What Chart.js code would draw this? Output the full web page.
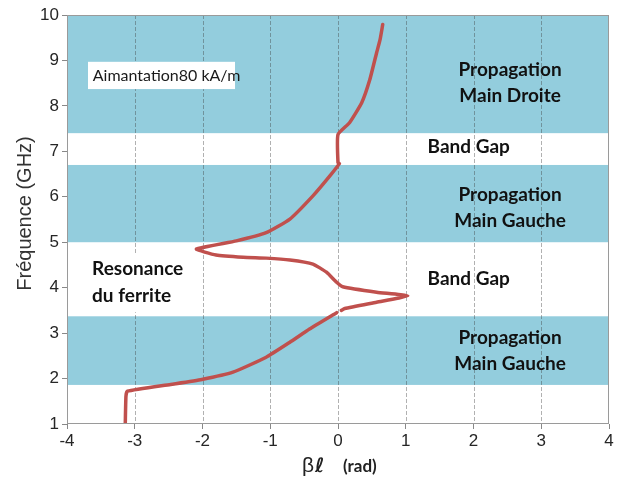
<!DOCTYPE html>
<html>
<head>
<meta charset="utf-8">
<script src="https://cdn.jsdelivr.net/npm/chart.js@4"></script>
<style>
  body { margin: 0; background: #fff; }
  #graf { display: block; }
</style>
</head>
<body>
<canvas id="graf" width="623" height="479"></canvas>
<script>
// Dispersion curve: beta*l (rad) vs frequency (GHz), null = small break
const betaL = [0.66, 0.62, 0.57, 0.47, 0.35, 0.17, 0.0, 0.0, 0.02, -0.12, -0.37, -0.71, -1.06, -1.50, -2.09,
  -1.80, -1.40, -1.06, -0.71, -0.37, -0.17, -0.02, 0.07, 0.57, 1.03, 0.57, 0.10, 0.05, null,
  -0.02, -0.42, -0.71, -1.06, -1.55, -2.01, -2.47, -3.11, -3.13, -3.14];
const freqGHz = [9.79, 9.45, 9.17, 8.58, 8.07, 7.63, 7.37, 6.75, 6.73, 6.46, 6.02, 5.51, 5.21, 5.03, 4.85,
  4.72, 4.67, 4.65, 4.61, 4.52, 4.34, 4.12, 4.02, 3.90, 3.82, 3.68, 3.54, 3.50, null,
  3.45, 3.09, 2.80, 2.47, 2.14, 1.98, 1.87, 1.72, 1.61, 1.00];

// bandes de propagation (bleu)
const bandLow = [1.86, 5.0, 7.40];
const bandHigh = [3.37, 6.70, 10];

const xTicks = [-4, -3, -2, -1, 0, 1, 2, 3, 4];
const yTicks = [1, 2, 3, 4, 5, 6, 7, 8, 9, 10];

// textes sur le graphe: [texte, beta, freq, align]
const notes = [
  ['Propagation', 2.54, 8.79, 'center'],
  ['Main Droite', 2.54, 8.22, 'center'],
  ['Band Gap', 1.93, 7.10, 'center'],
  ['Propagation', 2.54, 6.04, 'center'],
  ['Main Gauche', 2.54, 5.47, 'center'],
  ['Resonance', -3.63, 4.41, 'left'],
  ['du ferrite', -3.63, 3.82, 'left'],
  ['Band Gap', 1.93, 4.19, 'center'],
  ['Propagation', 2.54, 2.89, 'center'],
  ['Main Gauche', 2.54, 2.32, 'center']
];

let points = betaL.map((b, k) => (b === null ? { x: null, y: null } : { x: b, y: freqGHz[k] }));

// Fonds, cadres et titres
const decorPlugin = {
  id: 'decor',
  beforeDatasetsDraw(chart) {
    const { ctx, chartArea, scales } = chart;
    let x = scales.x, y = scales.y;
    ctx.save();
    // bandes bleues
    ctx.fillStyle = '#93CDDD';
    for (let i = 0; i < bandLow.length; i++) {
      let top = y.getPixelForValue(bandHigh[i]);
      let bot = y.getPixelForValue(bandLow[i]);
      ctx.fillRect(chartArea.left, top, chartArea.right - chartArea.left, bot - top);
    }
    // grille verticale en pointilles
    ctx.strokeStyle = 'rgba(60,60,60,0.4)';
    ctx.lineWidth = 1;
    ctx.setLineDash([4, 2]);
    xTicks.forEach(t => {
      if (t === -4 || t === 4) return;
      let px = Math.round(x.getPixelForValue(t)) + 0.5;
      ctx.beginPath();
      ctx.moveTo(px, chartArea.top);
      ctx.lineTo(px, chartArea.bottom);
      ctx.stroke();
    });
    ctx.setLineDash([]);
    // boites blanches
    ctx.fillStyle = '#ffffff';
    let bx1 = x.getPixelForValue(-3.69), bx2 = x.getPixelForValue(-1.52);
    let by1 = y.getPixelForValue(8.97), by2 = y.getPixelForValue(8.37);
    ctx.fillRect(bx1, by1, bx2 - bx1, by2 - by1);
    let rx1 = x.getPixelForValue(-3.69), rx2 = x.getPixelForValue(-2.11);
    let ry1 = y.getPixelForValue(4.72), ry2 = y.getPixelForValue(3.46);
    ctx.fillRect(rx1, ry1, rx2 - rx1, ry2 - ry1);
    ctx.restore();
  },
  afterDatasetsDraw(chart) {
    const { ctx, chartArea, scales } = chart;
    let x = scales.x, y = scales.y;
    ctx.save();
    // cadre
    ctx.strokeStyle = '#9a9a9a';
    ctx.lineWidth = 1;
    ctx.strokeRect(chartArea.left + 0.5, chartArea.top + 0.5,
      chartArea.right - chartArea.left - 1, chartArea.bottom - chartArea.top - 1);

    ctx.fillStyle = '#1a1a1a';
    ctx.textBaseline = 'middle';
    ctx.font = '16px Lato';
    ctx.textAlign = 'left';
    ctx.fillText('Aimantation80 kA/m', x.getPixelForValue(-3.62), y.getPixelForValue(8.67));

    ctx.fillStyle = '#111111';
    notes.forEach(n => {
      ctx.font = 'bold 19px Lato';
      ctx.textAlign = n[3];
      ctx.fillText(n[0], x.getPixelForValue(n[1]), y.getPixelForValue(n[2]));
    });

    // titre axe y
    ctx.fillStyle = '#333333';
    ctx.font = '20px "Liberation Sans"';
    ctx.textAlign = 'center';
    ctx.translate(25, (chartArea.top + chartArea.bottom) / 2 - 6);
    ctx.rotate(-Math.PI / 2);
    ctx.fillText('Fréquence (GHz)', 0, 0);
    ctx.restore();

    // titre axe x
    ctx.save();
    ctx.fillStyle = '#222222';
    ctx.textBaseline = 'alphabetic';
    ctx.textAlign = 'left';
    ctx.font = '21px "Liberation Sans"';
    ctx.fillText('β', 302, 472);
    ctx.font = 'bold 20px "DejaVu Sans"';
    ctx.fillText('ℓ', 315, 472);
    ctx.font = 'bold 17px Lato';
    ctx.fillText('(rad)', 343, 472);
    ctx.restore();
  }
};

new Chart(document.getElementById('graf'), {
  type: 'scatter',
  data: {
    datasets: [{
      data: points,
      showLine: true,
      spanGaps: false,
      borderColor: '#C0504D',
      borderWidth: 3.5,
      borderCapStyle: 'round',
      borderJoinStyle: 'round',
      pointRadius: 0,
      tension: 0.15
    }]
  },
  options: {
    responsive: false,
    animation: false,
    layout: { padding: { top: 15, right: 14, left: 0, bottom: 0 } },
    plugins: { legend: { display: false }, tooltip: { enabled: false } },
    scales: {
      x: {
        type: 'linear', min: -4, max: 4,
        afterBuildTicks: s => { s.ticks = xTicks.map(v => ({ value: v })); },
        afterFit: s => { s.height = 55; },
        grid: { drawOnChartArea: false, drawTicks: true, tickLength: 5, color: '#888' },
        border: { display: false },
        ticks: { color: '#262626', font: { family: 'Liberation Sans', size: 17 }, padding: 2, maxRotation: 0 }
      },
      y: {
        type: 'linear', min: 1, max: 10,
        afterBuildTicks: s => { s.ticks = yTicks.map(v => ({ value: v })); },
        afterFit: s => { s.width = 67; },
        grid: { drawOnChartArea: false, drawTicks: true, tickLength: 5, color: '#888' },
        border: { display: false },
        ticks: { color: '#262626', font: { family: 'Liberation Sans', size: 17 }, padding: 3 }
      }
    }
  },
  plugins: [decorPlugin]
});
</script>
</body>
</html>
